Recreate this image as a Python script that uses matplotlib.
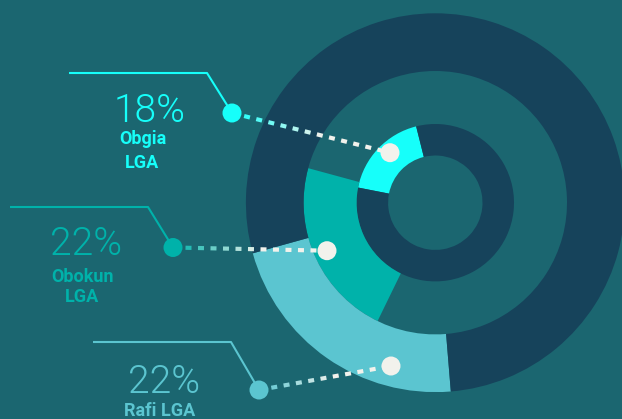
import numpy as np
import matplotlib
matplotlib.use("Agg")
import matplotlib.pyplot as plt
from matplotlib.patches import Circle
from matplotlib.colors import to_rgb

# ---- data ----
regions = ["Obgia", "Obokun", "Rafi"]
shares = [18, 22, 22]
name_lines = [["Obgia", "LGA"], ["Obokun", "LGA"], ["Rafi LGA"]]

# ---- style ----
BG = "#1b6670"
NAVY = "#16435b"
WHITE = "#f2f2ec"
colors = ["#16fffa", "#00b2aa", "#5bc5d0"]

W, H = 622, 419
CX, CY = 435.3, 202.7            # ring centre (pixel coords, y down)
rings = [(47.2, 78.7), (78.7, 131.7), (131.7, 189.4)]
start_angles = [104.1, 164.8, 195.5]
rest_colors = [NAVY, "none", NAVY]

# leader geometry: horizontal start, elbow, dot, marker on the ring
leaders = [
    dict(x0=69, y0=73, elbow=207, dot=(232, 113), mark=(390, 152.7)),
    dict(x0=10, y0=207, elbow=148, dot=(173, 247.5), mark=(327, 250.7)),
    dict(x0=93, y0=342, elbow=231, dot=(259, 390), mark=(391, 366)),
]
pct_pos = [(150, 122), (86, 255), (164, 393.3)]
name_pos = [(142.5, [143.7, 167.7]), (82.5, [281.7, 301.7]), (159.5, [415.5])]


def Y(y):
    return H - y


fig = plt.figure(figsize=(W / 100, H / 100), dpi=100)
fig.patch.set_facecolor(BG)
ax = fig.add_axes([0, 0, 1, 1])
ax.set_facecolor(BG)

for share, (r_in, r_out), a0, col, rest in zip(shares, rings, start_angles,
                                                 colors, rest_colors):
    ax.pie([share, 100 - share], radius=r_out, center=(CX, Y(CY)),
           startangle=a0, counterclock=True, colors=[col, rest],
           wedgeprops=dict(width=r_out - r_in, linewidth=0, edgecolor="none"))

ax.set_xlim(0, W)
ax.set_ylim(0, H)
ax.set_aspect("equal")
ax.axis("off")

DOT_R = 9.5
DASH, GAP, DASH_W = 6.0, 6.5, 3.0

for i, ld in enumerate(leaders):
    col = colors[i]
    dx, dy = ld["dot"]
    mx, my = ld["mark"]
    ax.plot([ld["x0"], ld["elbow"], dx], [Y(ld["y0"]), Y(ld["y0"]), Y(dy)],
            color=col, lw=1.5, solid_capstyle="butt", zorder=3)
    ax.add_patch(Circle((dx, Y(dy)), DOT_R, color=col, lw=0, zorder=4))

    # dashed connector fading from the series colour to white
    p0 = np.array([dx, Y(dy)])
    p1 = np.array([mx, Y(my)])
    vec = p1 - p0
    L = np.hypot(*vec)
    u = vec / L
    s = DOT_R + 3
    c0 = np.array(to_rgb(col))
    c1 = np.array(to_rgb(WHITE))
    while s + DASH < L - 2:
        t = min(1.0, (s / L) / 0.55)
        c = c0 * (1 - t) + c1 * t
        a = p0 + u * s
        b = p0 + u * (s + DASH)
        ax.plot([a[0], b[0]], [a[1], b[1]], color=c, lw=DASH_W,
                solid_capstyle="butt", zorder=3)
        s += DASH + GAP
    ax.add_patch(Circle((mx, Y(my)), DOT_R, color=WHITE, lw=0, zorder=5))

    px, py = pct_pos[i]
    ax.text(px, Y(py), f"{shares[i]}%", color=col, fontsize=28,
            family="Roboto", fontweight=300, ha="center", va="baseline")
    nx, nys = name_pos[i]
    for line, ny in zip(name_lines[i], nys):
        ax.text(nx, Y(ny), line, color=col, fontsize=13, family="Roboto",
                fontweight="bold", ha="center", va="baseline")

fig.savefig("out.png", dpi=100, facecolor=BG)
